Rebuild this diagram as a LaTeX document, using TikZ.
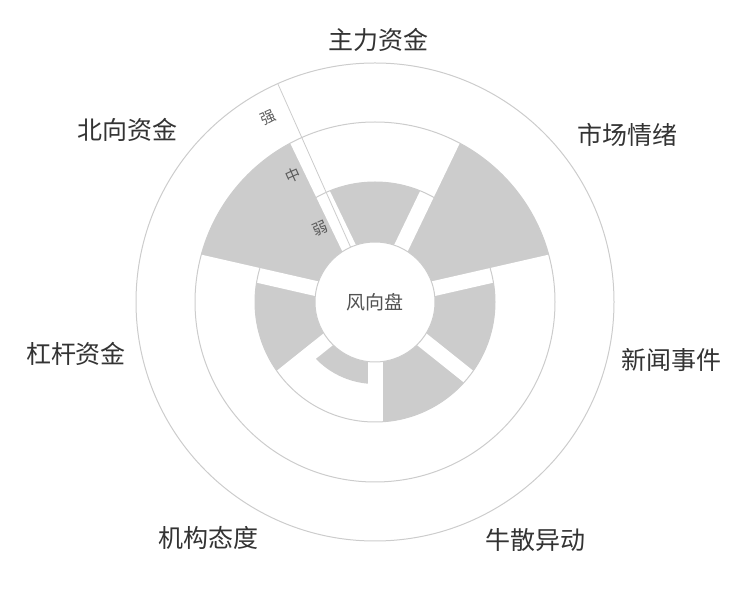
\documentclass[tikz,border=0pt]{standalone}
\usepackage{fontspec}
\setmainfont{Noto Sans CJK SC}
\begin{document}
\begin{tikzpicture}[x=1pt,y=1pt]
\definecolor{bar}{HTML}{CCCCCC}
\definecolor{ln}{HTML}{CCCCCC}
\definecolor{tx}{HTML}{333333}
\tikzset{cat/.style={text=tx,font=\fontsize{25}{25}\selectfont},
 lvl/.style={text=tx!80,font=\fontsize{15}{15}\selectfont,rotate=24},
 ring/.style={draw=ln,line width=1}}
\useasboundingbox (0,0) rectangle (750,600);
\begin{scope}[shift={(375,298)}]
\foreach \i/\r in {0/120,1/180,2/120,3/120,4/82,5/120,6/180}{
  \pgfmathsetmacro\a{90-\i*51.4286-25.7143}
  \pgfmathsetmacro\b{90-\i*51.4286+25.7143}
  \fill[bar] (\a:60) arc[start angle=\a,end angle=\b,radius=60] -- (\b:\r) arc[start angle=\b,end angle=\a,radius=\r] -- cycle;
}
\foreach \i in {0,...,6}{
  \pgfmathsetmacro\a{115.7143-\i*51.4286}
  \draw[white,line width=15] (0,0) -- (\a:200);
}
\draw[ring] (0,0) circle[radius=120];
\draw[ring] (0,0) circle[radius=180];
\draw[ring] (0,0) circle[radius=239];
\node[circle,fill=white,draw=ln,line width=1,minimum size=120,inner sep=0,text=tx!85,font=\fontsize{19}{19}\selectfont] (hub) at (0,0) {风向盘};
\coordinate (ax0) at (114:60);
\coordinate (ax1) at (114:239);
\draw[ln,line width=0.8] (ax0) -- (ax1);
\end{scope}
\node[lvl] (l3) at (268,482) {强};
\node[lvl] (l2) at (293,425) {中};
\node[lvl] (l1) at (320,372) {弱};
\node[cat] (c0) at (378,560) {主力资金};
\node[cat] (c1) at (627,465) {市场情绪};
\node[cat] (c2) at (671,240) {新闻事件};
\node[cat] (c3) at (535,60) {牛散异动};
\node[cat] (c4) at (208,62) {机构态度};
\node[cat] (c5) at (76,246) {杠杆资金};
\node[cat] (c6) at (127,470) {北向资金};
\end{tikzpicture}
\end{document}
